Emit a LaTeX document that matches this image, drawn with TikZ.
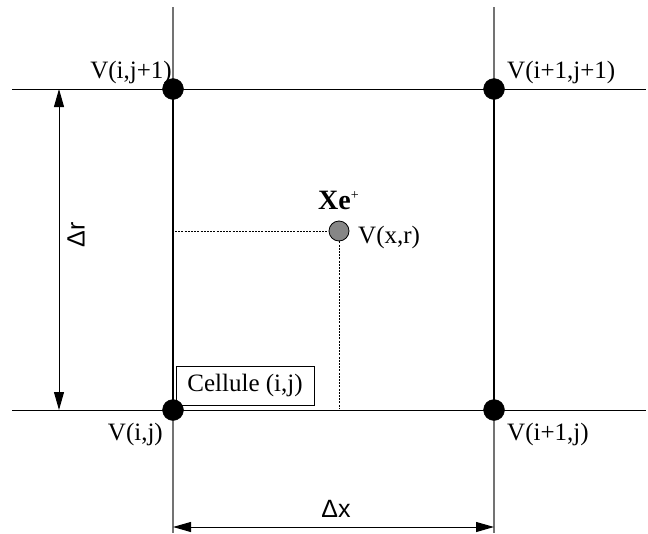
\documentclass[tikz,border=0pt]{standalone}
\usepackage{fontspec}
\setmainfont{Liberation Serif}
\setsansfont{Liberation Sans}
\usetikzlibrary{arrows.meta}
\tikzset{
  vdot/.style={circle,fill=black,draw=black,inner sep=0pt,minimum size=21pt},
  gdot/.style={circle,fill=gray!95,draw=black,line width=0.8pt,inner sep=0pt,minimum size=20pt},
  cell/.style={line width=1.8pt,draw=black},
  ext/.style={line width=1pt,draw=black},
  vext/.style={line width=1.2pt,draw=black!55},
  guide/.style={line width=0.8pt,draw=black,dash pattern=on 2pt off 1.2pt},
  lbl/.style={inner sep=0pt,font=\fontsize{25}{30}\selectfont},
  dim/.style={line width=1pt,draw=black,{Triangle[length=18pt,width=10pt]}-{Triangle[length=18pt,width=10pt]}},
  dimlbl/.style={inner sep=0pt,font=\sffamily\fontsize{25}{30}\selectfont},
  cellbox/.style={draw=black,line width=0.9pt,inner sep=0pt,minimum width=138pt,minimum height=39pt,font=\fontsize{25}{30}\selectfont}
}
\begin{document}
\begin{tikzpicture}[x=1pt,y=-1pt]
\useasboundingbox (0,0) rectangle (648,533);
% extension lines
\coordinate (hl0) at (12,410);
\coordinate (hr0) at (646,410);
\coordinate (hl1) at (12,89);
\coordinate (hr1) at (646,89);
\coordinate (vt0) at (173,7);
\coordinate (vb0) at (173,533);
\coordinate (vt1) at (494,7);
\coordinate (vb1) at (494,533);
\draw[ext] (hl0) -- (hr0);
\draw[ext] (hl1) -- (hr1);
\draw[vext] (vt0) -- (vb0);
\draw[vext] (vt1) -- (vb1);
% cell
\coordinate (c00) at (173,410);
\coordinate (c10) at (494,410);
\coordinate (c01) at (173,89);
\coordinate (c11) at (494,89);
\draw[cell] (c00) -- (c01);
\draw[cell] (c10) -- (c11);
% guides
\node[gdot] (p) at (339,231) {};
\coordinate (gl) at (175,231);
\coordinate (gb) at (339,408);
\draw[guide] (gl) -- (p.west);
\draw[guide] (p.south) -- (gb);
% vertices
\node[vdot] (v00) at (c00) {};
\node[vdot] (v10) at (c10) {};
\node[vdot] (v01) at (c01) {};
\node[vdot] (v11) at (c11) {};
% labels
\node[lbl,anchor=base east] (l01) at (172,78) {V(i,j+1)};
\node[lbl,anchor=base west] (l11) at (507,78) {V(i+1,j+1)};
\node[lbl,anchor=base east] (l00) at (163,440) {V(i,j)};
\node[lbl,anchor=base west] (l10) at (507,440) {V(i+1,j)};
\node[inner sep=0pt,anchor=base west,font=\fontsize{28}{32}\selectfont] (xe) at (318,209) {\textbf{Xe}\raisebox{10pt}{\fontsize{14}{15}\selectfont +}};
\node[lbl,anchor=base west] (vxr) at (358,243) {V(x,r)};
\node[cellbox] (cb) at (245,385.5) {Cellule (i,j)};
% dimensions
\coordinate (dr1) at (59,89);
\coordinate (dr0) at (59,410);
\draw[dim] (dr1) -- (dr0);
\node[dimlbl,rotate=90] (drl) at (76,235) {Δr};
\coordinate (dx0) at (173,527);
\coordinate (dx1) at (494,527);
\draw[dim] (dx0) -- (dx1);
\node[dimlbl] (dxl) at (336,509) {Δx};
\end{tikzpicture}
\end{document}
